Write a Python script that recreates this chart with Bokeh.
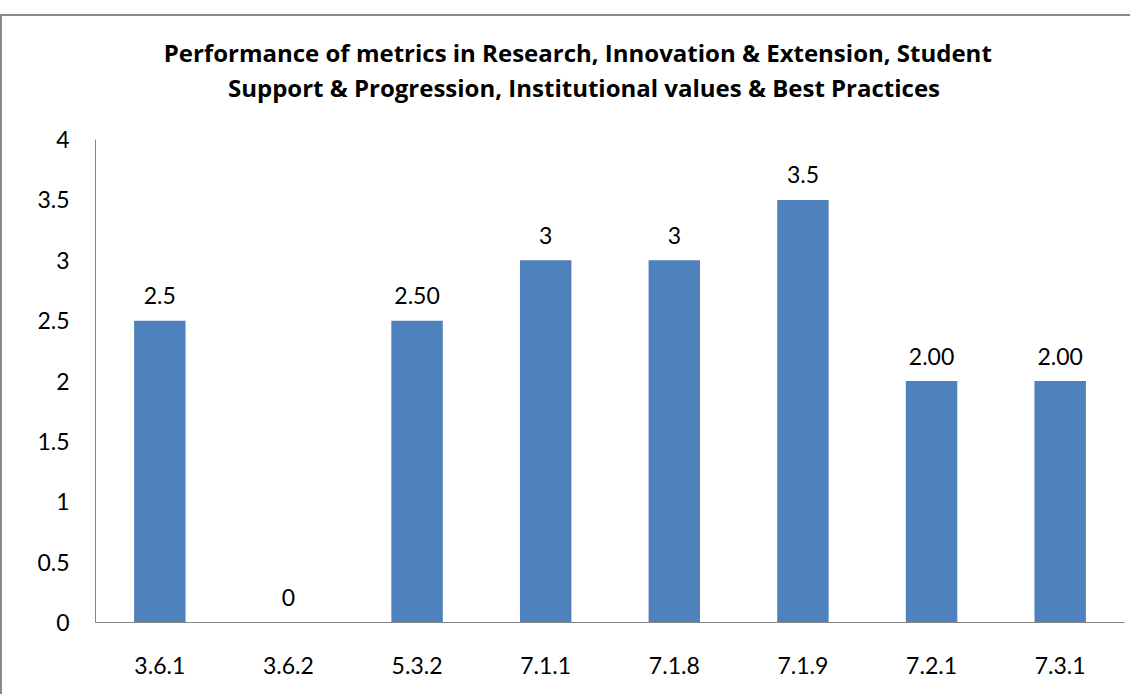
from bokeh.plotting import figure
from bokeh.models import ColumnDataSource, LabelSet, Title, FixedTicker, Range1d
from bokeh.core.properties import value
from bokeh.embed import file_html
from bokeh.resources import INLINE

# ---- data ----
categories = ["3.6.1", "3.6.2", "5.3.2", "7.1.1", "7.1.8", "7.1.9", "7.2.1", "7.3.1"]
values = [2.5, 0, 2.5, 3, 3, 3.5, 2, 2]
value_labels = ["2.5", "0", "2.50", "3", "3", "3.5", "2.00", "2.00"]
y_ticks = [0, 0.5, 1, 1.5, 2, 2.5, 3, 3.5, 4]
y_tick_labels = ["0", "0.5", "1", "1.5", "2", "2.5", "3", "3.5", "4"]
title_line1 = "Performance of metrics in   Research, Innovation & Extension, Student"
title_line2 = "Support & Progression, Institutional values & Best Practices"

FONT = "Lato"
TFONT = "Open Sans"

source = ColumnDataSource(dict(cat=categories, val=values, lab=value_labels))

p = figure(x_range=categories, y_range=Range1d(0, 4),
           width=1130, height=680, output_backend="svg", toolbar_location=None,
           min_border_left=93, min_border_right=8, min_border_top=123, min_border_bottom=74,
           styles={"border-left": "2px solid #8a8a8a", "border-top": "2px solid #8a8a8a",
                   "margin-top": "14px"})
p.x_range.range_padding = 0

p.vbar(x="cat", top="val", width=0.4, source=source, fill_color="#4F81BD", line_color=None)

labels = LabelSet(x="cat", y="val", text="lab", source=source, text_align="center",
                  text_baseline="middle", y_offset=25, text_font=value(FONT),
                  text_font_size="23px", text_color="#000000")
p.add_layout(labels)

# titles (last added is outermost)
t2 = Title(text=title_line2, align="center", text_font=TFONT, text_font_size="24px",
           text_font_style="bold", text_color="#000000", standoff=71, padding=(0, 52, 0, 0))
t1 = Title(text=title_line1, align="center", text_font=TFONT, text_font_size="24px",
           text_font_style="bold", text_color="#000000", standoff=-71, padding=(0, 52, 0, 0))
p.add_layout(t2, "above")
p.add_layout(t1, "above")

p.xgrid.grid_line_color = None
p.ygrid.grid_line_color = None
p.outline_line_color = None

p.yaxis.ticker = FixedTicker(ticks=y_ticks)
p.yaxis.major_label_overrides = {t: l for t, l in zip(y_ticks, y_tick_labels)}
for ax in (p.xaxis, p.yaxis):
    ax.axis_line_color = "#868686"
    ax.axis_line_width = 1
    ax.major_tick_line_color = None
    ax.minor_tick_line_color = None
    ax.major_label_text_font = FONT
    ax.major_label_text_font_size = "23px"
    ax.major_label_text_color = "#000000"
p.yaxis.major_label_standoff = 20
p.xaxis.major_label_standoff = 28

open("out.html", "w").write(file_html(p, INLINE))
